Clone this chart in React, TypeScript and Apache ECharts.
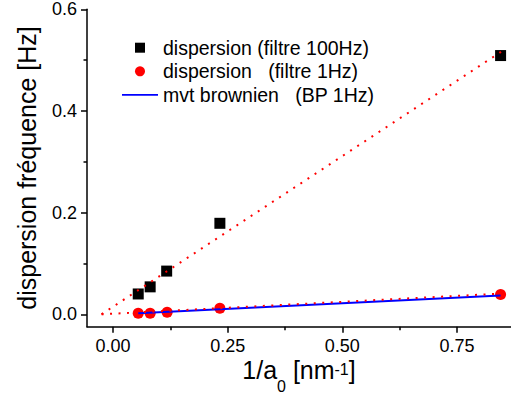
import React, { useEffect, useRef } from "react";
import * as echarts from "echarts";

// Data
const xFilter100 = [0.055, 0.081, 0.117, 0.233, 0.845];
const yFilter100 = [0.04, 0.054, 0.085, 0.179, 0.509];
const xFilter1 = [0.055, 0.081, 0.118, 0.233, 0.845];
const yFilter1 = [0.002, 0.002, 0.004, 0.012, 0.039];
const xBrownien = [0.055, 0.845];
const yBrownien = [0.002, 0.037];
const xFitHigh = [-0.025, 0.852];
const yFitHigh = [0, 0.52];
const xFitLow = [-0.025, 0.852];
const yFitLow = [0, 0.041];

const yMajorTicks = [0, 0.2, 0.4, 0.6];
const yMinorTicks = [0.1, 0.3, 0.5];
const xMajorTicks = [0, 0.25, 0.5, 0.75];
const xMinorTicks = [0.125, 0.375, 0.625];

const legendNames = [
  "dispersion (filtre 100Hz)",
  "dispersion   (filtre 1Hz)",
  "mvt brownien   (BP 1Hz)",
];

const FONT = "'Liberation Sans', Arial, sans-serif";

const zip = (xs: number[], ys: number[]) => xs.map((x, i) => [x, ys[i]]);

export default function App() {
  const ref = useRef<HTMLDivElement>(null);
  useEffect(() => {
    if (!ref.current) return;
    const chart = echarts.init(ref.current, null, { renderer: "svg" });
    const xMin = -0.0567;
    const xMax = 0.8677;
    const yMin = -0.0244;
    const yMax = 0.6;
    const axisLineStyle = { color: "#000", width: 1.5 };
    chart.setOption({
      animation: false,
      backgroundColor: "#fff",
      textStyle: { fontFamily: FONT },
      grid: { left: 87, right: 0, top: 9.3, bottom: 70.3, outerBoundsMode: "none" },
      legend: {
        orient: "vertical",
        left: 117,
        top: 32.7,
        itemWidth: 36,
        itemHeight: 10,
        itemGap: 3.6,
        selectedMode: false,
        textStyle: { fontSize: 19.5, color: "#000", fontFamily: FONT, lineHeight: 20 },
        data: [
          { name: legendNames[0], icon: "path://M0,0L10,0L10,10L0,10Z", itemStyle: { color: "#000", opacity: 1 } },
          { name: legendNames[1], icon: "circle", itemStyle: { color: "#ff0000", opacity: 1 } },
          { name: legendNames[2], icon: "path://M0,0L36,0L36,1.6L0,1.6Z", itemStyle: { color: "#0000ff", opacity: 1 } },
        ],
      },
      xAxis: [
        {
          type: "value",
          min: xMin,
          max: xMax,
          position: "bottom",
          axisLine: { show: true, onZero: false, lineStyle: axisLineStyle },
          axisTick: { show: true, length: 6, customValues: xMajorTicks, lineStyle: axisLineStyle },
          axisLabel: {
            customValues: xMajorTicks,
            formatter: (v: number) => v.toFixed(2),
            fontSize: 18,
            color: "#000",
            margin: 10,
            fontFamily: FONT,
          },
          splitLine: { show: false },
          name: "{m|1/a}{sub|0}{m| [nm}{sup|-1}{m|]}",
          nameLocation: "middle",
          nameGap: 31,
          nameMoveOverlap: false,
          nameTextStyle: {
            color: "#000",
            fontFamily: FONT,
            verticalAlign: "top",
            rich: {
              m: { fontSize: 25, lineHeight: 30, verticalAlign: "top", color: "#000", fontFamily: FONT },
              sub: { fontSize: 16, lineHeight: 16, verticalAlign: "top", padding: [21, 0, 0, 0], color: "#000", fontFamily: FONT },
              sup: { fontSize: 16, lineHeight: 16, verticalAlign: "top", padding: [4, 0, 0, 0], color: "#000", fontFamily: FONT },
            },
          },
        },
        {
          type: "value",
          min: xMin,
          max: xMax,
          position: "bottom",
          axisLine: { show: false, onZero: false },
          axisTick: { show: true, length: 3.5, customValues: xMinorTicks, lineStyle: axisLineStyle },
          axisLabel: { show: false },
          splitLine: { show: false },
        },
      ],
      yAxis: [
        {
          type: "value",
          min: yMin,
          max: yMax,
          position: "left",
          axisLine: { show: true, onZero: false, lineStyle: axisLineStyle },
          axisTick: { show: true, length: 6, customValues: yMajorTicks, lineStyle: axisLineStyle },
          axisLabel: {
            customValues: yMajorTicks,
            formatter: (v: number) => v.toFixed(1),
            fontSize: 18,
            color: "#000",
            margin: 10,
            fontFamily: FONT,
          },
          splitLine: { show: false },
          name: "dispersion fréquence [Hz]",
          nameLocation: "middle",
          nameGap: 48,
          nameMoveOverlap: false,
          nameTextStyle: { fontSize: 25, color: "#000", fontFamily: FONT },
        },
        {
          type: "value",
          min: yMin,
          max: yMax,
          position: "left",
          axisLine: { show: false, onZero: false },
          axisTick: { show: true, length: 3.5, customValues: yMinorTicks, lineStyle: axisLineStyle },
          axisLabel: { show: false },
          splitLine: { show: false },
        },
      ],
      series: [
        {
          name: legendNames[0],
          type: "scatter",
          symbol: "rect",
          symbolSize: 11,
          itemStyle: { color: "#000", opacity: 1 },
          data: zip(xFilter100, yFilter100),
          silent: true,
        },
        {
          name: legendNames[1],
          type: "scatter",
          symbol: "circle",
          symbolSize: 11,
          itemStyle: { color: "#ff0000", opacity: 1 },
          data: zip(xFilter1, yFilter1),
          silent: true,
        },
        {
          name: legendNames[2],
          type: "line",
          symbol: "none",
          itemStyle: { color: "#0000ff" },
          lineStyle: { color: "#0000ff", width: 2 },
          data: zip(xBrownien, yBrownien),
          silent: true,
        },
        {
          name: "fit haut",
          type: "line",
          symbol: "none",
          itemStyle: { color: "#ff0000" },
          lineStyle: { color: "#ff0000", width: 2, type: [2, 6.5] },
          data: zip(xFitHigh, yFitHigh),
          silent: true,
        },
        {
          name: "fit bas",
          type: "line",
          symbol: "none",
          itemStyle: { color: "#ff0000" },
          lineStyle: { color: "#ff0000", width: 2, type: [2, 6.5] },
          data: zip(xFitLow, yFitLow),
          silent: true,
        },
      ],
    });
    return () => chart.dispose();
  }, []);
  return (
    <div
      ref={ref}
      style={{ position: "absolute", left: 0, top: 0, width: 511, height: 397 }}
    />
  );
}
